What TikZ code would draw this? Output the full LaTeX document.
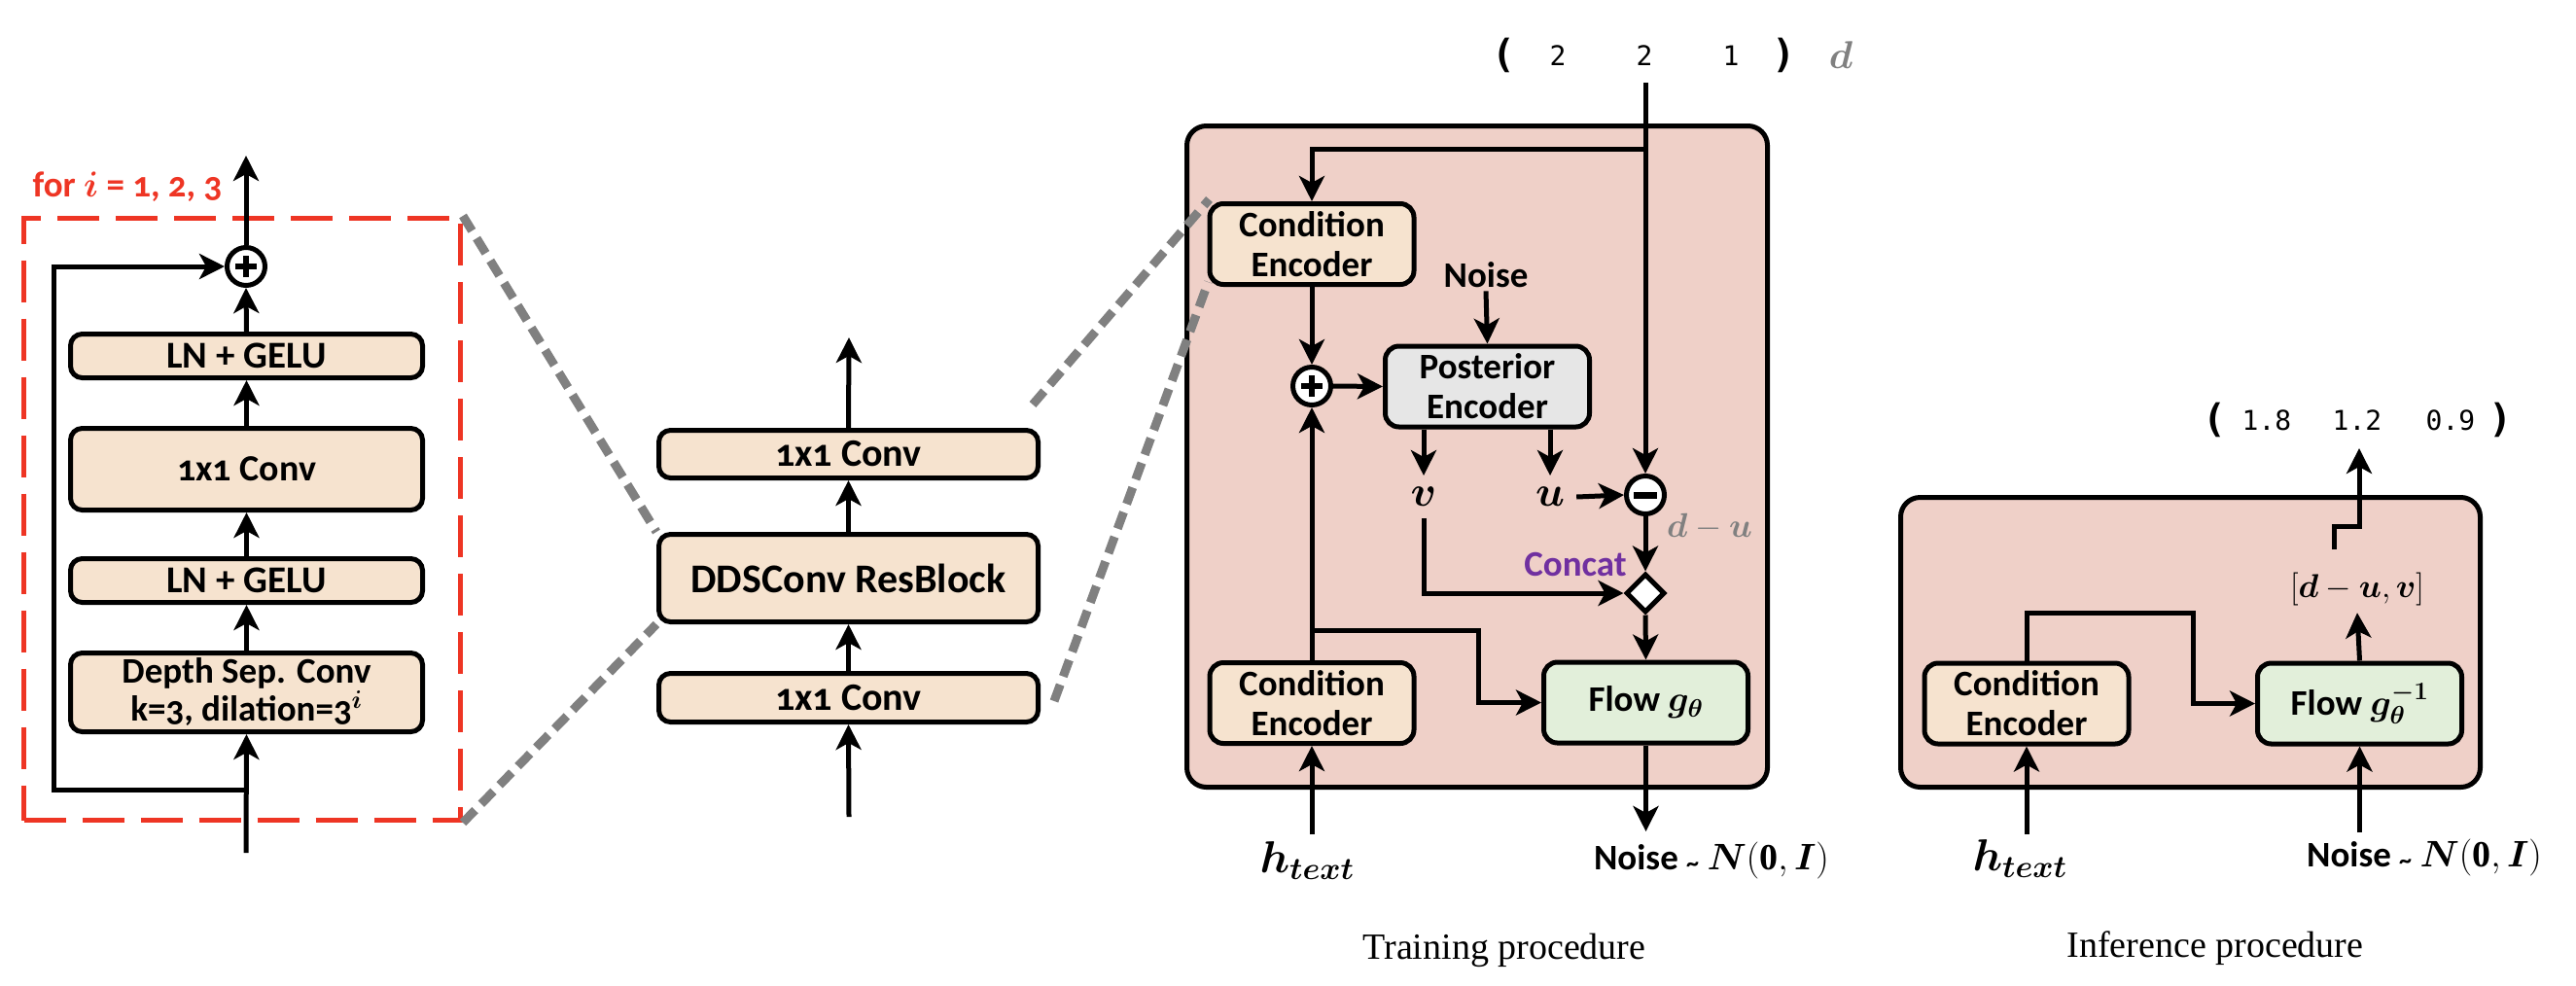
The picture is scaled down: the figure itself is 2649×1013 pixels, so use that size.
\documentclass[tikz,border=0pt]{standalone}
\usepackage{fix-cm}
\usepackage{fontspec}
\usepackage{amsmath,bm}
\setmainfont{Liberation Serif}
\newfontfamily\cfont{Carlito}[Numbers=OldStyle]
\newfontfamily\tfont{Carlito}
\newfontfamily\mfont{DejaVu Sans Mono}
\usetikzlibrary{arrows.meta,shapes.geometric,calc}
\definecolor{beige}{HTML}{F6E3CF}
\definecolor{pinkbg}{HTML}{EFD0C8}
\definecolor{pegray}{HTML}{E6E6E6}
\definecolor{flowgreen}{HTML}{E2EFDA}
\definecolor{reddash}{HTML}{EE3524}
\definecolor{dgray}{HTML}{808080}
\definecolor{purp}{HTML}{7030A0}
\tikzset{
  box/.style={draw, line width=5pt, rounded corners=12pt, fill=beige, inner sep=0pt, align=center,
    font=\cfont\bfseries\fontsize{39}{42}\selectfont},
  tbox/.style={draw, line width=5pt, rounded corners=14pt, fill=beige, inner sep=0pt, align=center,
    minimum width=210pt, minimum height=83pt, font=\tfont\bfseries\fontsize{37}{41}\selectfont},
  panel/.style={draw, line width=5pt, rounded corners=20pt, fill=pinkbg, inner sep=0pt},
  arr/.style={line width=5pt, -{Stealth[length=26pt,width=26pt,inset=7pt]}},
  zoomline/.style={dgray, line width=9pt, dash pattern=on 18pt off 9pt},
  plusnode/.style={circle, draw, line width=5pt, fill=white, minimum size=39pt, inner sep=0pt,
    path picture={\draw[line width=6pt] (path picture bounding box.center) ++(-11pt,0) -- ++(22pt,0);
                  \draw[line width=6pt] (path picture bounding box.center) ++(0,-11pt) -- ++(0,22pt);}},
  minusnode/.style={circle, draw, line width=5pt, fill=white, minimum size=39pt, inner sep=0pt,
    path picture={\draw[line width=7pt] (path picture bounding box.center) ++(-12pt,0) -- ++(24pt,0);}},
  mathlbl/.style={inner sep=0pt, font=\fontsize{40}{44}\selectfont},
  lbl/.style={inner sep=0pt, font=\tfont\bfseries\fontsize{37}{40}\selectfont},
  captxt/.style={inner sep=0pt, font=\fontsize{38}{42}\selectfont},
  vecnum/.style={inner sep=0pt, font=\mfont\fontsize{28}{30}\selectfont},
  vecbr/.style={inner sep=0pt, font=\mfont\bfseries\fontsize{40}{44}\selectfont},
}
\begin{document}
\begin{tikzpicture}[x=1pt,y=-1pt]
\useasboundingbox (0,0) rectangle (2649,1013);

% ---------------- left: DDSConv residual block ----------------
\node[draw=reddash, line width=5pt, dash pattern=on 43pt off 17pt, minimum width=449pt, minimum height=619pt, inner sep=0pt] (redbox) at (249,534) {};
\node[inner sep=0pt, text=reddash, font=\cfont\bfseries\fontsize{37}{40}\selectfont] (fori) at (131,192) {for $\bm{i}$ = 1, 2, 3};
\node[box, minimum width=362pt, minimum height=45pt] (ln1) at (253.5,366) {LN + GELU};
\node[box, minimum width=362pt, minimum height=84pt, font=\cfont\bfseries\fontsize{38}{42}\selectfont] (c1) at (253.5,482.5) {1x1 Conv};
\node[box, minimum width=362pt, minimum height=45pt] (ln2) at (253.5,597) {LN + GELU};
\node[box, minimum width=362pt, minimum height=81pt, font=\cfont\bfseries\fontsize{37}{39}\selectfont] (dsc) at (253.5,712) {Depth Sep. Conv\\k=3, dilation=3$^{\bm{i}}$};
\node[plusnode] (p1) at (253,274) {};
\coordinate (in1) at (253,877);
\coordinate (sk) at (253,812);
\coordinate (skc) at (55,812);
\coordinate (out1) at (253,160);
\draw[arr] (in1) -- (dsc.south);
\draw[arr] (dsc.north) -- (ln2.south);
\draw[arr] (ln2.north) -- (c1.south);
\draw[arr] (c1.north) -- (ln1.south);
\draw[arr] (ln1.north) -- (p1.south);
\draw[arr] (p1.north) -- (out1);
\draw[arr] (sk) -- (skc) |- (p1.west);

% ---------------- middle: DDSConv stack ----------------
\node[box, minimum width=390pt, minimum height=49pt, font=\cfont\bfseries\fontsize{40}{42}\selectfont] (c2) at (872.5,467) {1x1 Conv};
\node[box, minimum width=390pt, minimum height=90pt, font=\cfont\bfseries\fontsize{42}{44}\selectfont] (dds) at (872.5,594.5) {DDSConv ResBlock};
\node[box, minimum width=390pt, minimum height=50pt, font=\cfont\bfseries\fontsize{40}{42}\selectfont] (c3) at (872.5,717.5) {1x1 Conv};
\coordinate (in2) at (873,840);
\coordinate (out2) at (873,347);
\draw[arr] (in2) -- (c3.south);
\draw[arr] (c3.north) -- (dds.south);
\draw[arr] (dds.north) -- (c2.south);
\draw[arr] (c2.north) -- (out2);

% ---------------- training procedure ----------------
\node[panel, minimum width=597pt, minimum height=680pt] (tpanel) at (1519,469.5) {};
\node[tbox] (ce1) at (1349,251) {Condition\\Encoder};
\node[tbox, fill=pegray] (pe) at (1529.5,397.5) {Posterior\\Encoder};
\node[plusnode] (p2) at (1349,397) {};
\node[lbl, inner sep=3pt] (noise) at (1528,283) {Noise};
\node[mathlbl, inner sep=12pt, font=\fontsize{44}{48}\selectfont] (v) at (1464,511) {$\bm{v}$};
\node[mathlbl, inner sep=12pt, font=\fontsize{44}{48}\selectfont] (u) at (1594,511) {$\bm{u}$};
\node[minusnode] (m) at (1692,509) {};
\node[mathlbl, text=dgray, font=\fontsize{35}{40}\selectfont] (du) at (1758,542) {$\bm{d}-\bm{u}$};
\node[lbl, text=purp] (concat) at (1620,580) {Concat};
\node[diamond, draw, fill=white, line width=5pt, minimum width=40pt, minimum height=40pt, inner sep=0pt] (dia) at (1692,610) {};
\node[tbox] (ce2) at (1349,723) {Condition\\Encoder};
\node[tbox, fill=flowgreen] (flow) at (1692.5,722.5) {Flow $\bm{g_\theta}$};
\node[mathlbl, font=\fontsize{46}{48}\selectfont] (hl) at (1344,885) {$\bm{h}_{\bm{text}}$};
\node[lbl] (nl) at (1760,885) {Noise \raisebox{-2pt}{\fontsize{26}{26}\selectfont\char`\~} {\fontsize{38}{42}\selectfont$\bm{N}(\mathbf{0},\bm{I})$}};
\node[captxt] (tcap) at (1547,977) {Training procedure};
% duration vector
\node[vecbr] (lb1) at (1547,57) {(};
\node[vecnum] (d1) at (1602,57) {2};
\node[vecnum] (d2) at (1691,57) {2};
\node[vecnum] (d3) at (1780,57) {1};
\node[vecbr] (rb1) at (1835,57) {)};
\node[mathlbl, text=dgray, font=\fontsize{40}{44}\selectfont] (dl) at (1893,57) {$\bm{d}$};
\coordinate (dtop) at (1692,85);
\coordinate (br1) at (1692,153);
\coordinate (br2) at (1349,648);
\coordinate (br2r) at (1520,648);
\coordinate (hin) at (1349,858);
\coordinate (nout) at (1692.5,855);
\draw[arr] (dtop) -- (m.north);
\draw[arr] (br1) -| (ce1.north);
\draw[arr] (ce1.south) -- (p2.north);
\draw[arr] (p2.east) -- (pe.west);
\draw[arr] (noise.south) -- (pe.north);
\draw[arr] (pe.south -| v.north) -- (v.north);
\draw[arr] (pe.south -| u.north) -- (u.north);
\draw[arr] (u.east) -- (m.west);
\draw[arr] (m.south) -- (dia.north);
\draw[arr] (v.south) |- (dia.west);
\draw[arr] (dia.south) -- (flow.north);
\draw[arr] (ce2.north) -- (p2.south);
\draw[arr] (br2) -- (br2r) |- (flow.west);
\draw[arr] (hin) -- (ce2.south);
\draw[arr] (flow.south) -- (nout);

% ---------------- inference procedure ----------------
\node[panel, minimum width=596pt, minimum height=298pt] (ipanel) at (2252.5,660.5) {};
\node[tbox] (ice) at (2084,723.5) {Condition\\Encoder};
\node[tbox, fill=flowgreen] (iflow) at (2426.5,723.5) {Flow $\bm{g_\theta^{-1}}$};
\node[mathlbl, inner sep=7pt, font=\fontsize{34}{40}\selectfont] (dul) at (2424,606) {$[\bm{d}-\bm{u},\bm{v}]$};
\node[mathlbl, font=\fontsize{46}{48}\selectfont] (ihl) at (2077,883) {$\bm{h}_{\bm{text}}$};
\node[lbl] (inl) at (2493,882) {Noise \raisebox{-2pt}{\fontsize{26}{26}\selectfont\char`\~} {\fontsize{38}{42}\selectfont$\bm{N}(\mathbf{0},\bm{I})$}};
\node[captxt] (icap) at (2278,975) {Inference procedure};
\node[vecbr] (lb2) at (2278,432) {(};
\node[vecnum] (e1) at (2331,432) {1.8};
\node[vecnum] (e2) at (2424,432) {1.2};
\node[vecnum] (e3) at (2520,432) {0.9};
\node[vecbr] (rb2) at (2572,432) {)};
\coordinate (ib1) at (2084,630);
\coordinate (ib2) at (2255,630);
\coordinate (o1) at (2400,565);
\coordinate (o2) at (2400,541);
\coordinate (o3) at (2426,461);
\coordinate (ihin) at (2084,858);
\coordinate (inin) at (2426.5,856);
\draw[arr] (ice.north) -- (ib1) -- (ib2) |- (iflow.west);
\draw[arr] (iflow.north) -- (dul.south);
\draw[arr] (o1) -- (o2) -| (o3);
\draw[arr] (ihin) -- (ice.south);
\draw[arr] (inin) -- (iflow.south);

% ---------------- zoom guide lines ----------------
\draw[zoomline] (redbox.north east) -- (dds.north west);
\draw[zoomline] (redbox.south east) -- (dds.south west);
\draw[zoomline] ($(c2.north east)+(-8,-24)$) -- ($(ce1.north west)+(2,-2)$);
\draw[zoomline] ($(c3.south east)+(14,-24)$) -- ($(ce1.south west)+(1,-5)$);
\end{tikzpicture}
\end{document}
